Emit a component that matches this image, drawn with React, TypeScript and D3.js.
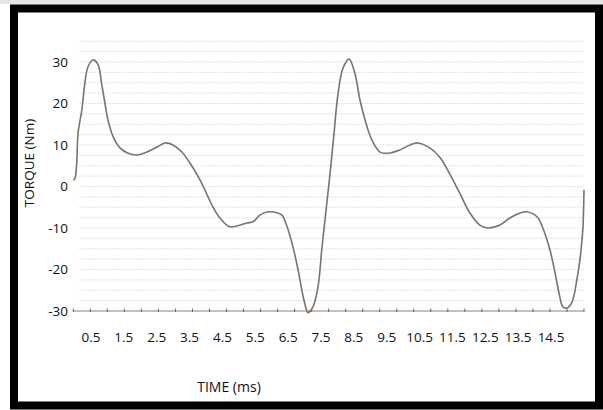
import React from "react";
import * as d3 from "d3";

// Time (ms) and torque (Nm)
const times = [
  0.0, 0.05, 0.1, 0.14, 0.25, 0.34, 0.43, 0.58, 0.73, 0.83, 0.93, 1.02, 1.17, 1.37, 1.61, 1.87,
  2.16, 2.46, 2.69, 2.93, 3.19, 3.43, 3.72, 4.1, 4.31, 4.6, 5.1, 5.28, 5.48, 5.72, 6.01, 6.13,
  6.28, 6.45, 6.6, 6.75, 6.86, 6.89, 7.04, 7.19, 7.3, 7.42, 7.54, 7.66, 7.77, 7.92, 8.1, 8.27,
  8.42, 8.57, 8.77, 9.01, 9.24, 9.59, 9.89, 10.12, 10.47, 10.77, 11.06, 11.35, 11.65, 11.94,
  12.18, 12.53, 12.82, 13.12, 13.32, 13.62, 13.79, 14.0, 14.15, 14.29, 14.38, 14.5, 14.65,
  14.79, 14.88, 14.94, 14.97, 15.0,
];
const torque = [
  1.5, 2, 5.6, 12.9, 18.4, 24.9, 28.8, 30.5, 29.3, 24.9, 20, 16, 12, 9.3, 8, 7.6,
  8.3, 9.5, 10.5, 10, 8.3, 5.6, 1.6, -4.9, -7.6, -9.7, -8.8, -8.5, -6.9, -6.1, -6.4, -6.9,
  -9.7, -14.5, -20, -26.5, -30, -30.4, -29, -24, -15, -6, 3, 13, 22, 28.5, 30.7, 27.3,
  20.8, 16, 11.2, 8.3, 8, 8.8, 10, 10.5, 9.3, 7, 3, -1.6, -6.4, -9.3,
  -10, -9.3, -7.6, -6.4, -6.1, -7.3, -10, -15.3, -20.8, -26.6, -29, -29.3, -27.8,
  -22.5, -17.7, -12.9, -9.8, -0.8,
];

const yTicks = [30, 20, 10, 0, -10, -20, -30];
const xLabels = ["0.5", "1.5", "2.5", "3.5", "4.5", "5.5", "6.5", "7.5", "8.5", "9.5", "10.5", "11.5", "12.5", "13.5", "14.5"];
const gridValues = d3.range(-27.5, 35.1, 2.5);
const xTickValues = d3.range(0, 15.01, 0.5);

const W = 603;
const H = 410;

export default function App() {
  const x = d3.scaleLinear().domain([0, 15]).range([73.3, 584]);
  const y = d3.scaleLinear().domain([-30, 30]).range([311, 62]);
  const xl = d3.scalePoint<string>().domain(xLabels).range([91, 551]);

  const data = times.map((t, i) => [t, torque[i]] as [number, number]);
  const line = d3
    .line<[number, number]>()
    .x((d) => x(d[0]))
    .y((d) => y(d[1]))
    .curve(d3.curveCatmullRom.alpha(0.5));

  const font = "'Open Sans', 'Lato', sans-serif";

  return (
    <svg
      width={W}
      height={H}
      viewBox={`0 0 ${W} ${H}`}
      style={{ position: "absolute", left: 0, top: 0, display: "block", background: "#fff" }}
    >
      <rect x={0} y={0} width={W} height={4} fill="#e6e6e6" />
      <rect x={14} y={8.5} width={585} height={397} fill="#fff" stroke="#000" strokeWidth={8} />

      {/* faint dotted grid */}
      {gridValues.map((v) => (
        <line
          key={v}
          x1={x(0) + 6}
          x2={x(15)}
          y1={y(v)}
          y2={y(v)}
          stroke="#c0c0c0"
          strokeWidth={1}
          strokeDasharray="1.5,1.5"
          opacity={0.6}
        />
      ))}

      {/* x axis */}
      <line x1={x(0)} x2={x(15)} y1={y(-30)} y2={y(-30)} stroke="#8c8078" strokeWidth={1} />
      {xTickValues.map((t) => (
        <line key={t} x1={x(t)} x2={x(t)} y1={y(-30) - 2.5} y2={y(-30) + 1} stroke="#6e645c" strokeWidth={1} />
      ))}

      {/* y tick labels */}
      {yTicks.map((v) => (
        <text
          key={v}
          x={68}
          y={y(v)}
          dy="0.35em"
          textAnchor="end"
          fontFamily={font}
          fontSize={13.5}
          fill="#111"
        >
          {v}
        </text>
      ))}

      {/* x tick labels */}
      {xLabels.map((l) => (
        <text
          key={l}
          x={xl(l)}
          y={342}
          textAnchor="middle"
          fontFamily={font}
          fontSize={13.5}
          fill="#111"
        >
          {l}
        </text>
      ))}

      {/* axis titles */}
      <text
        transform={`translate(34,${163}) rotate(-90)`}
        textAnchor="middle"
        fontFamily={font}
        fontSize={13.5}
        fill="#111"
      >
        TORQUE (Nm)
      </text>
      <text x={229} y={392} textAnchor="middle" fontFamily={font} fontSize={14} fill="#111">
        TIME  (ms)
      </text>

      {/* torque curve */}
      <path d={line(data) ?? ""} fill="none" stroke="#7d7268" strokeWidth={1.6} strokeLinejoin="round" />
    </svg>
  );
}
